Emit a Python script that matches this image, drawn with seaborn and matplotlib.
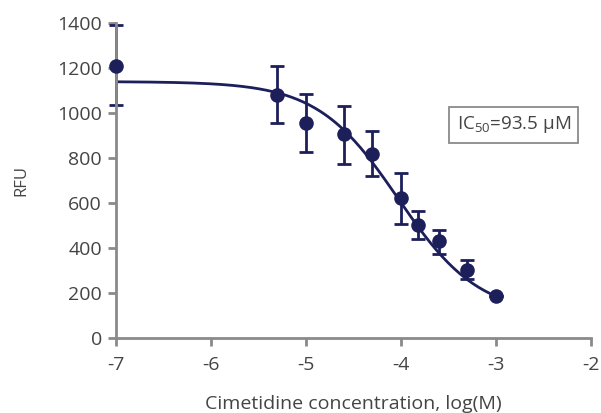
import numpy as np
import pandas as pd
import matplotlib
matplotlib.use("Agg")
import matplotlib.pyplot as plt
import seaborn as sns

# measured points: log concentration, mean RFU, lower / upper error bar ends
log_conc = [-7.0, -5.3, -5.0, -4.6, -4.3, -4.0, -3.82, -3.6, -3.3, -3.0]
rfu = [1210, 1080, 955, 905, 820, 620, 500, 430, 300, 185]
err_low = [1035, 955, 825, 775, 720, 505, 440, 375, 260, 185]
err_high = [1390, 1210, 1085, 1030, 920, 735, 565, 480, 345, 185]

# fitted 4-parameter logistic
top, bottom, log_ic50, hill = 1140, 100, np.log10(93.5e-6), 1.02

navy = "#1c1f5a"
grey = "#8a8a8a"
text_col = "#444444"

sns.set_theme(style="white")
plt.rcParams["font.family"] = ["Open Sans", "DejaVu Sans"]
plt.rcParams["axes.unicode_minus"] = False

df = pd.DataFrame({"x": log_conc, "y": rfu})
xs = np.linspace(-7, -3, 200)
fit = pd.DataFrame({"x": xs, "y": bottom + (top - bottom) / (1 + 10 ** ((xs - log_ic50) * hill))})

fig = plt.figure(figsize=(6.01, 4.13), dpi=100)
ax = fig.add_axes([0.193, 0.182, 0.790, 0.762])

sns.lineplot(data=fit, x="x", y="y", color=navy, linewidth=2, ax=ax)
yerr = [np.array(rfu) - np.array(err_low), np.array(err_high) - np.array(rfu)]
ax.errorbar(log_conc, rfu, yerr=yerr, fmt="none", ecolor=navy, elinewidth=2, capsize=5, capthick=2, clip_on=False)
sns.scatterplot(data=df, x="x", y="y", color=navy, s=110, edgecolor=navy, linewidth=0, ax=ax, zorder=5, clip_on=False)

ax.set_xlim(-7, -2)
ax.set_ylim(0, 1400)
ax.set_xticks(range(-7, -1))
ax.set_yticks(range(0, 1401, 200))
sns.despine(ax=ax)
for s in ["left", "bottom"]:
    ax.spines[s].set_color(grey)
    ax.spines[s].set_linewidth(2)
ax.tick_params(axis="both", colors=grey, width=2, length=6, direction="out",
               labelcolor=text_col, labelsize=14)
ax.tick_params(left=True, bottom=True)
ax.tick_params(axis="x", pad=7)
ax.tick_params(axis="y", pad=4)

ax.set_xlabel("Cimetidine concentration, log(M)", fontsize=14, color=text_col, labelpad=15)
ax.set_ylabel("RFU", fontsize=12, color=text_col, labelpad=20)

ax.text(-2.81, 947, r"IC$_{\mathregular{50}}$=93.5 µM", ha="center", va="center",
        fontsize=13.5, color=text_col,
        bbox=dict(boxstyle="square,pad=0.4", facecolor="white", edgecolor=grey, linewidth=1.3))

fig.savefig("out.png", dpi=100)
